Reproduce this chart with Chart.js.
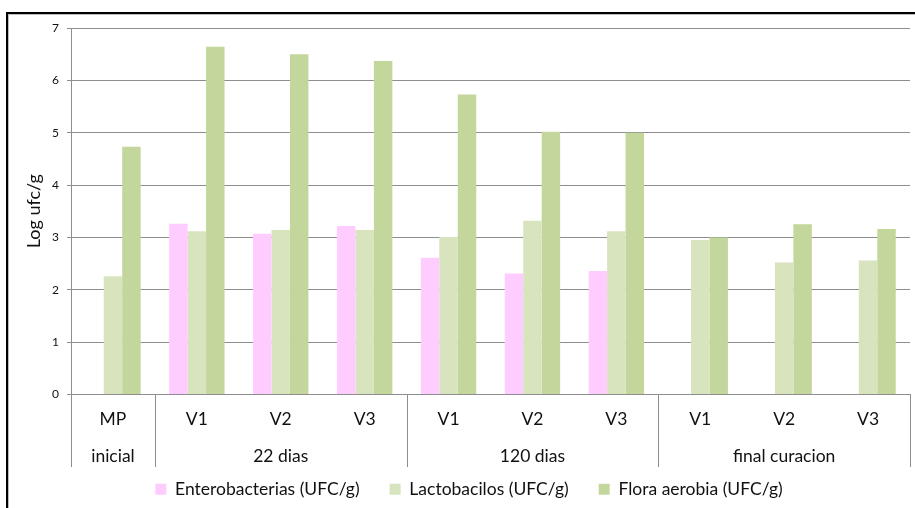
<!DOCTYPE html>
<html>
<head>
<meta charset="utf-8">
<script src="https://cdn.jsdelivr.net/npm/chart.js@4/dist/chart.umd.min.js"></script>
<style>
html,body{margin:0;padding:0;background:#fff;}
#wrap{position:relative;width:915px;height:508px;}
</style>
</head>
<body>
<div id="wrap"><canvas id="c" width="915" height="508"></canvas></div>
<script>
const categories = ['MP','V1','V2','V3','V1','V2','V3','V1','V2','V3'];
const groups = ['inicial','22 dias','120 dias','final curacion'];
const groupSizes = [1,3,3,3];
const seriesNames = ['Enterobacterias (UFC/g)','Lactobacilos (UFC/g)','Flora aerobia (UFC/g)'];
const enterobacterias = [null,3.26,3.07,3.22,2.61,2.31,2.36,null,null,null];
const lactobacilos = [2.26,3.12,3.14,3.14,3.01,3.32,3.12,2.95,2.52,2.56];
const floraAerobia = [4.73,6.64,6.50,6.37,5.73,5.02,5.00,3.00,3.25,3.16];
const yTicks = [0,1,2,3,4,5,6,7];

const FONT = 'Lato, "Open Sans", sans-serif';
const GRID = '#8e8e8e';
const LABEL_SIZE = 17.5;
const LEGEND_PAD = 30;

const framePlugin = {
  id: 'frame',
  beforeDraw(chart) {
    const ctx = chart.ctx;
    ctx.save();
    ctx.fillStyle = '#fff';
    ctx.fillRect(0,0,chart.width,chart.height);
    ctx.fillStyle = '#000';
    ctx.fillRect(6,12,chart.width-6,2);
    ctx.fillRect(6,12,2,chart.height-12);
    ctx.fillStyle = '#bdbdbd';
    ctx.fillRect(8,14,chart.width-8,1);
    ctx.fillRect(8,14,1,chart.height-14);
    ctx.restore();
  }
};

const groupPlugin = {
  id: 'groups',
  afterLayout(chart) {
    if (chart.legend) { chart.legend.left += 14; chart.legend.right += 14; }
  },
  afterDraw(chart) {
    const x = chart.scales.x;
    const ctx = chart.ctx;
    const half = (x.getPixelForValue(1) - x.getPixelForValue(0)) / 2;
    const y0 = chart.chartArea.bottom;
    ctx.save();
    ctx.strokeStyle = GRID;
    ctx.lineWidth = 1;
    ctx.fillStyle = '#111';
    ctx.font = LABEL_SIZE + 'px ' + FONT;
    ctx.textAlign = 'center';
    ctx.textBaseline = 'middle';
    let idx = 0;
    const bounds = [x.getPixelForValue(0) - half];
    groups.forEach((g, gi) => {
      const start = idx, end = idx + groupSizes[gi] - 1;
      const l = x.getPixelForValue(start) - half;
      const r = x.getPixelForValue(end) + half;
      bounds.push(r);
      ctx.fillText(g, (l + r) / 2, 456);
      idx += groupSizes[gi];
    });
    bounds.forEach(b => {
      const px = Math.round(b) + 0.5;
      ctx.beginPath();
      ctx.moveTo(px, y0);
      ctx.lineTo(px, 467);
      ctx.stroke();
    });
    ctx.restore();
  }
};

new Chart(document.getElementById('c'), {
  type: 'bar',
  data: {
    labels: categories,
    datasets: [
      {label: seriesNames[0], data: enterobacterias, backgroundColor: '#FFCCFF'},
      {label: seriesNames[1], data: lactobacilos, backgroundColor: '#D7E4BD'},
      {label: seriesNames[2], data: floraAerobia, backgroundColor: '#C3D69B'}
    ]
  },
  options: {
    responsive: false,
    animation: false,
    events: [],
    layout: {padding: {left: 0, right: 5, top: 28, bottom: 0}},
    datasets: {bar: {categoryPercentage: 0.66, barPercentage: 1, borderWidth: 0}},
    plugins: {
      tooltip: {enabled: false},
      legend: {
        position: 'bottom',
        labels: {
          boxWidth: 11, boxHeight: 11, padding: LEGEND_PAD, color: '#111',
          font: {family: FONT, size: LABEL_SIZE}
        }
      }
    },
    scales: {
      x: {
        grid: {display: false, drawTicks: false},
        border: {display: true, color: GRID, width: 1},
        ticks: {
          autoSkip: false, maxRotation: 0, padding: 14, color: '#111',
          font: {family: FONT, size: LABEL_SIZE}
        },
        afterFit(s) { s.height = 113.5 - 10 - LABEL_SIZE - LEGEND_PAD; }
      },
      y: {
        min: 0, max: 7,
        afterBuildTicks(s) { s.ticks = yTicks.map(v => ({value: v})); },
        grid: {color: GRID, tickLength: 4, drawTicks: true},
        border: {display: true, color: GRID, width: 1},
        ticks: {padding: 8, color: '#111', font: {family: FONT, size: 12}},
        title: {display: true, text: 'Log ufc/g', color: '#111',
                font: {family: FONT, size: 18, lineHeight: 1.2}, padding: {top: 23.7, bottom: 0}},
        afterFit(s) { s.width = 71; }
      }
    }
  },
  plugins: [framePlugin, groupPlugin]
});
</script>
</body>
</html>
